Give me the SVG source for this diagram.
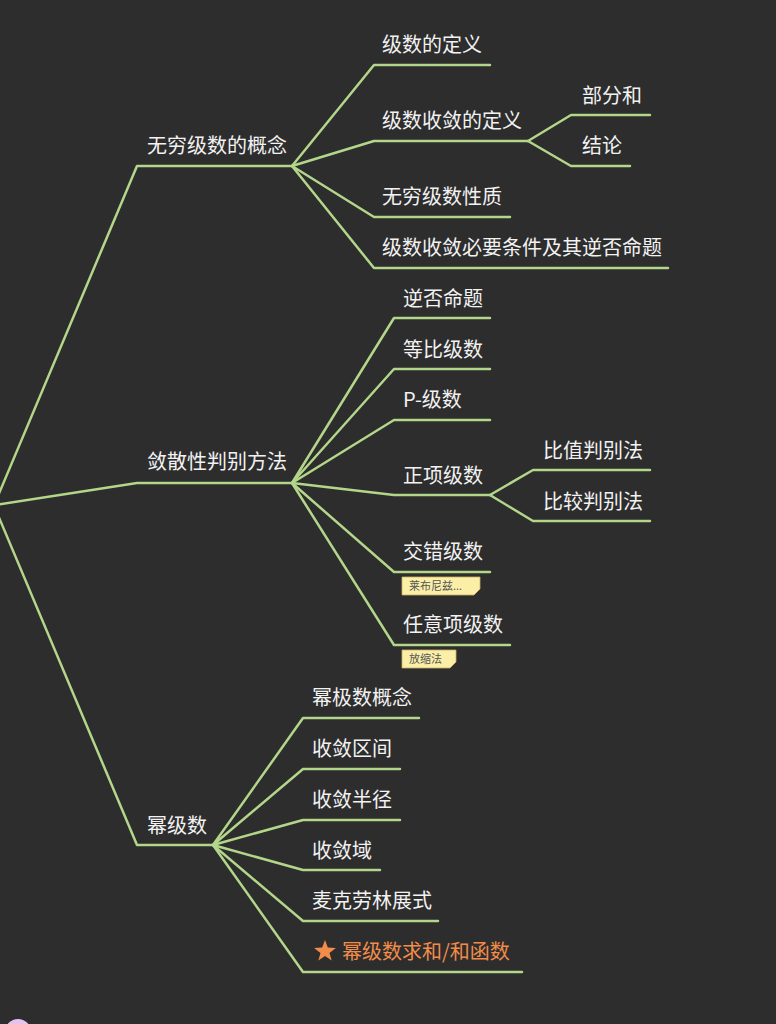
<svg xmlns="http://www.w3.org/2000/svg" width="776" height="1024" viewBox="0 0 776 1024">
<style>
.bg{fill:#2d2d2d}
.c{fill:none;stroke:#b3d68a;stroke-width:2.5;stroke-linejoin:round;stroke-linecap:round}
.t{font-family:"Noto Sans CJK SC","Noto Sans",sans-serif;font-size:20px;fill:#f2f2f2}
.o{fill:#f28c4a}
.note rect,.note path{fill:#fbefa8;stroke:#c8b060;stroke-width:0.8}
.nt{font-family:"Noto Sans CJK SC",sans-serif;font-size:11px;fill:#555}
</style>
<rect class="bg" width="776" height="1024"/>
<g id="connectors">
<path class="c" d="M-5,503 L137,166 L292,166"/>
<path class="c" d="M-5,505 L137,483 L292,483"/>
<path class="c" d="M-5,508 L137,845 L213,845"/>
<path class="c" d="M292,166 L374,65 L490,65"/>
<path class="c" d="M292,166 L374,141 L528,141"/>
<path class="c" d="M528,141 L571,115 L650,115"/>
<path class="c" d="M528,141 L571,166 L630,166"/>
<path class="c" d="M292,166 L374,217 L510,217"/>
<path class="c" d="M292,166 L374,268 L668,268"/>
<path class="c" d="M292,483 L394,318 L490,318"/>
<path class="c" d="M292,483 L394,369 L490,369"/>
<path class="c" d="M292,483 L394,420 L490,420"/>
<path class="c" d="M292,483 L394,495 L490,495"/>
<path class="c" d="M490,495 L533,470 L650,470"/>
<path class="c" d="M490,495 L533,521 L650,521"/>
<path class="c" d="M292,483 L394,572 L490,572"/>
<path class="c" d="M292,483 L394,645 L510,645"/>
<path class="c" d="M213,845 L303,718 L419,718"/>
<path class="c" d="M213,845 L303,769 L400,769"/>
<path class="c" d="M213,845 L303,820 L400,820"/>
<path class="c" d="M213,845 L303,870 L380,870"/>
<path class="c" d="M213,845 L303,921 L438,921"/>
<path class="c" d="M213,845 L303,972 L522,972"/>
</g>
<g id="n1"><text class="t" x="147" y="153">无穷级数的概念</text></g>
<g id="n2"><text class="t" x="147" y="469">敛散性判别方法</text></g>
<g id="n3"><text class="t" x="147" y="833">幂级数</text></g>
<g id="n1a"><text class="t" x="382" y="52">级数的定义</text></g>
<g id="n1b"><text class="t" x="382" y="128">级数收敛的定义</text></g>
<g id="n1b1"><text class="t" x="582" y="103">部分和</text></g>
<g id="n1b2"><text class="t" x="582" y="153">结论</text></g>
<g id="n1c"><text class="t" x="382" y="204">无穷级数性质</text></g>
<g id="n1d"><text class="t" x="382" y="255">级数收敛必要条件及其逆否命题</text></g>
<g id="n2a"><text class="t" x="403" y="306">逆否命题</text></g>
<g id="n2b"><text class="t" x="403" y="357">等比级数</text></g>
<g id="n2c"><text class="t" x="403" y="407">P-级数</text></g>
<g id="n2d"><text class="t" x="403" y="483">正项级数</text></g>
<g id="n2d1"><text class="t" x="543" y="458">比值判别法</text></g>
<g id="n2d2"><text class="t" x="543" y="509">比较判别法</text></g>
<g id="n2e"><text class="t" x="403" y="559">交错级数</text>
<g class="note"><path d="M402,577 H480 V589 L474,595 H402 Z"/><text class="nt" x="409" y="590">莱布尼兹...</text></g></g>
<g id="n2f"><text class="t" x="403" y="632">任意项级数</text>
<g class="note"><path d="M402,650 H456 V662 L450,668 H402 Z"/><text class="nt" x="409" y="663">放缩法</text></g></g>
<g id="n3a"><text class="t" x="312" y="705">幂极数概念</text></g>
<g id="n3b"><text class="t" x="312" y="756">收敛区间</text></g>
<g id="n3c"><text class="t" x="312" y="807">收敛半径</text></g>
<g id="n3d"><text class="t" x="312" y="858">收敛域</text></g>
<g id="n3e"><text class="t" x="312" y="908">麦克劳林展式</text></g>
<g id="n3f"><polygon class="o" points="325,940 327.8,947.6 335.9,947.9 329.5,952.9 331.7,960.6 325,956.1 318.3,960.6 320.5,952.9 314.1,947.9 322.2,947.6"/><text class="t o" x="342" y="959">幂级数求和/和函数</text></g>
<circle cx="18" cy="1032" r="13" fill="#e6c3ee"/>
</svg>
